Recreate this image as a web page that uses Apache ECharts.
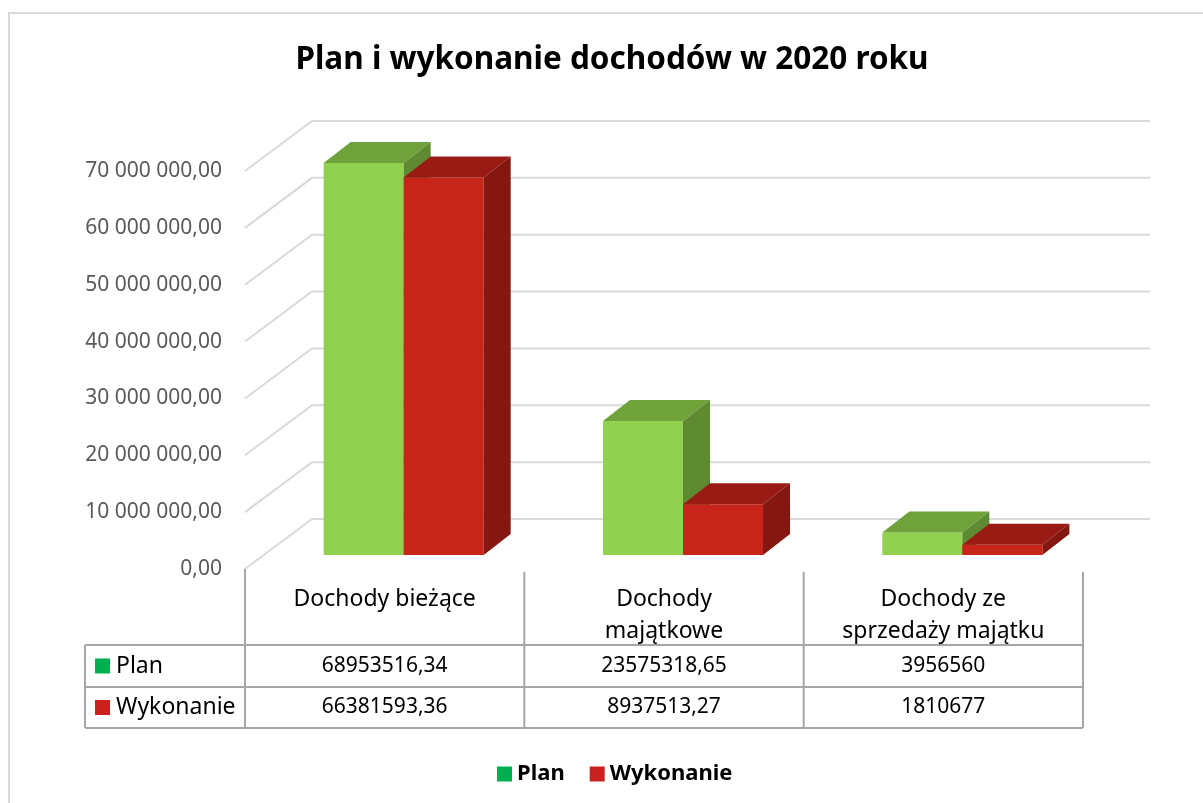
<!DOCTYPE html>
<html>
<head>
<meta charset="utf-8">
<title>Plan i wykonanie dochodów w 2020 roku</title>
<script src="https://cdn.jsdelivr.net/npm/echarts@6/dist/echarts.min.js"></script>
<style>
    html, body { margin: 0; padding: 0; background: #fff; }
    #main { width: 1203px; height: 803px; }
</style>
</head>
<body>
<div id="main"></div>
<script>
// dane
var categories = ['Dochody bieżące', 'Dochody\nmajątkowe', 'Dochody ze\nsprzedaży majątku'];
var seriesNames = ['Plan', 'Wykonanie'];
var planValues = [68953516.34, 23575318.65, 3956560];
var wykonanieValues = [66381593.36, 8937513.27, 1810677];
var yTicks = [0, 10000000, 20000000, 30000000, 40000000, 50000000, 60000000, 70000000];

var FONT = '"Noto Sans", "DejaVu Sans", sans-serif';
// przesuniecia "3D"
var WALL_DX = 67, WALL_DY = -50;
var BAR_DX = 19, BAR_DY = -14;
var DEPTH_DX = 27, DEPTH_DY = -21;
var BAR_FRAC = 0.2865;

var planColors = { front: '#92D050', top: '#70A23C', side: '#5E8A31' };
var wykColors = { front: '#C8251A', top: '#9A1B14', side: '#84170F' };

function fmtValue(v) {
    return String(v).replace('.', ',');
}

function fmtAxis(v) {
    var s = Math.round(v).toString().replace(/\B(?=(\d{3})+(?!\d))/g, ' ');
    return s + ',00';
}

function renderWall(params, api) {
    var cs = params.coordSys;
    var p = api.coord([0, api.value(1)]);
    var y = p[1];
    var left = cs.x, right = cs.x + cs.width;
    return {
        type: 'polyline',
        shape: { points: [[left, y], [left + WALL_DX, y + WALL_DY], [right + WALL_DX, y + WALL_DY]] },
        style: { stroke: '#D9D9D9', lineWidth: 2, fill: null }
    };
}

function makeBarRender(side, colors) {
    return function (params, api) {
        var c = api.coord([api.value(0), api.value(1)]);
        var base = api.coord([api.value(0), 0]);
        var bw = api.size([1, 0])[0] * BAR_FRAC;
        var x0 = c[0] + BAR_DX + (side === 0 ? -bw : 0);
        var x1 = x0 + bw;
        var yt = c[1] + BAR_DY;
        var yb = base[1] + BAR_DY;
        return {
            type: 'group',
            children: [
                {
                    type: 'rect',
                    shape: { x: x0, y: yt, width: bw, height: yb - yt },
                    style: { fill: colors.front }
                },
                {
                    type: 'polygon',
                    shape: { points: [[x0, yt], [x1, yt], [x1 + DEPTH_DX, yt + DEPTH_DY], [x0 + DEPTH_DX, yt + DEPTH_DY]] },
                    style: { fill: colors.top }
                },
                {
                    type: 'polygon',
                    shape: { points: [[x1, yt], [x1 + DEPTH_DX, yt + DEPTH_DY], [x1 + DEPTH_DX, yb + DEPTH_DY], [x1, yb]] },
                    style: { fill: colors.side }
                }
            ]
        };
    };
}

var LINE = { stroke: '#A6A6A6', lineWidth: 2 };
var ROW1 = 76, ROW2 = 118, ROW3 = 159, LEFTCOL = 160;

function line(x1, y1, x2, y2) {
    return { type: 'line', shape: { x1: x1, y1: y1, x2: x2, y2: y2 }, style: LINE };
}

function txt(s, x, y, align, size) {
    return {
        type: 'text',
        style: { text: s, x: x, y: y, align: align || 'center', verticalAlign: 'middle', font: (size || 21) + 'px ' + FONT, fill: '#000' }
    };
}

function renderTable(params, api) {
    var i = api.value(0);
    var c = api.coord([i, 0]);
    var w = api.size([1, 0])[0];
    var xl = c[0] - w / 2, xr = c[0] + w / 2;
    var y0 = c[1];
    var ch = [];
    ch.push(line(xl, y0 + (i === 0 ? 0 : 3), xl, y0 + ROW3));
    if (i === categories.length - 1) {
        ch.push(line(xr, y0 + 3, xr, y0 + ROW3));
    }
    [ROW1, ROW2, ROW3].forEach(function (r) {
        ch.push(line(xl, y0 + r, xr, y0 + r));
    });
    ch.push(txt(fmtValue(planValues[i]), c[0], y0 + (ROW1 + ROW2) / 2));
    ch.push(txt(fmtValue(wykonanieValues[i]), c[0], y0 + (ROW2 + ROW3) / 2));
    if (i === 0) {
        var lx = xl - LEFTCOL;
        [ROW1, ROW2, ROW3].forEach(function (r) {
            ch.push(line(lx, y0 + r, xl, y0 + r));
        });
        ch.push(line(lx, y0 + ROW1, lx, y0 + ROW3));
        var markColors = ['#00B050', '#C9211E'];
        var rowMid = [(ROW1 + ROW2) / 2, (ROW2 + ROW3) / 2];
        for (var k = 0; k < seriesNames.length; k++) {
            ch.push({
                type: 'rect',
                shape: { x: lx + 10, y: y0 + rowMid[k] - 7.5, width: 15, height: 15 },
                style: { fill: markColors[k] }
            });
            ch.push(txt(seriesNames[k], lx + 31, y0 + rowMid[k], 'left', 23));
        }
    }
    return { type: 'group', children: ch };
}

var myChart = echarts.init(document.getElementById('main'));
var option = {
    backgroundColor: '#fff',
    animation: false,
    title: {
        text: 'Plan i wykonanie dochodów w 2020 roku',
        left: 607,
        textAlign: 'center',
        top: 39,
        textStyle: { fontFamily: FONT, fontSize: 31.5, fontWeight: 'bold', color: '#000' }
    },
    legend: {
        data: seriesNames,
        left: 492,
        top: 758,
        icon: 'rect',
        itemWidth: 15,
        itemHeight: 15,
        itemGap: 25,
        textStyle: { fontFamily: FONT, fontSize: 22, fontWeight: 'bold', color: '#000' }
    },
    graphic: [{
        type: 'rect',
        shape: { x: 9, y: 13, width: 1300, height: 900 },
        style: { fill: null, stroke: '#D9D9D9', lineWidth: 2 },
        silent: true
    }],
    grid: { left: 245, right: 120, top: 171, bottom: 234 },
    xAxis: {
        type: 'category',
        data: categories,
        axisLine: { show: false },
        axisTick: { show: false },
        axisLabel: { interval: 0, margin: 14, fontFamily: FONT, fontSize: 23, lineHeight: 32, color: '#000' }
    },
    yAxis: {
        type: 'value',
        min: 0,
        max: 70000000,
        interval: 10000000,
        axisLine: { show: false },
        axisTick: { show: false },
        splitLine: { show: false },
        axisLabel: { margin: 23, fontFamily: FONT, fontSize: 21, color: '#595959', formatter: fmtAxis }
    },
    series: [
        {
            name: 'walls',
            type: 'custom',
            renderItem: renderWall,
            data: yTicks.map(function (v) { return [0, v]; }),
            silent: true,
            z: 1
        },
        {
            name: 'Plan',
            type: 'custom',
            renderItem: makeBarRender(0, planColors),
            itemStyle: { color: '#00B050' },
            data: planValues.map(function (v, i) { return [i, v]; }),
            z: 2
        },
        {
            name: 'Wykonanie',
            type: 'custom',
            renderItem: makeBarRender(1, wykColors),
            itemStyle: { color: '#C9211E' },
            data: wykonanieValues.map(function (v, i) { return [i, v]; }),
            z: 3
        },
        {
            name: 'table',
            type: 'custom',
            renderItem: renderTable,
            data: categories.map(function (c, i) { return [i, 0]; }),
            silent: true,
            z: 4
        }
    ]
};
myChart.setOption(option);
window.addEventListener('resize', function () {
    myChart.resize();
});
</script>
</body>
</html>
